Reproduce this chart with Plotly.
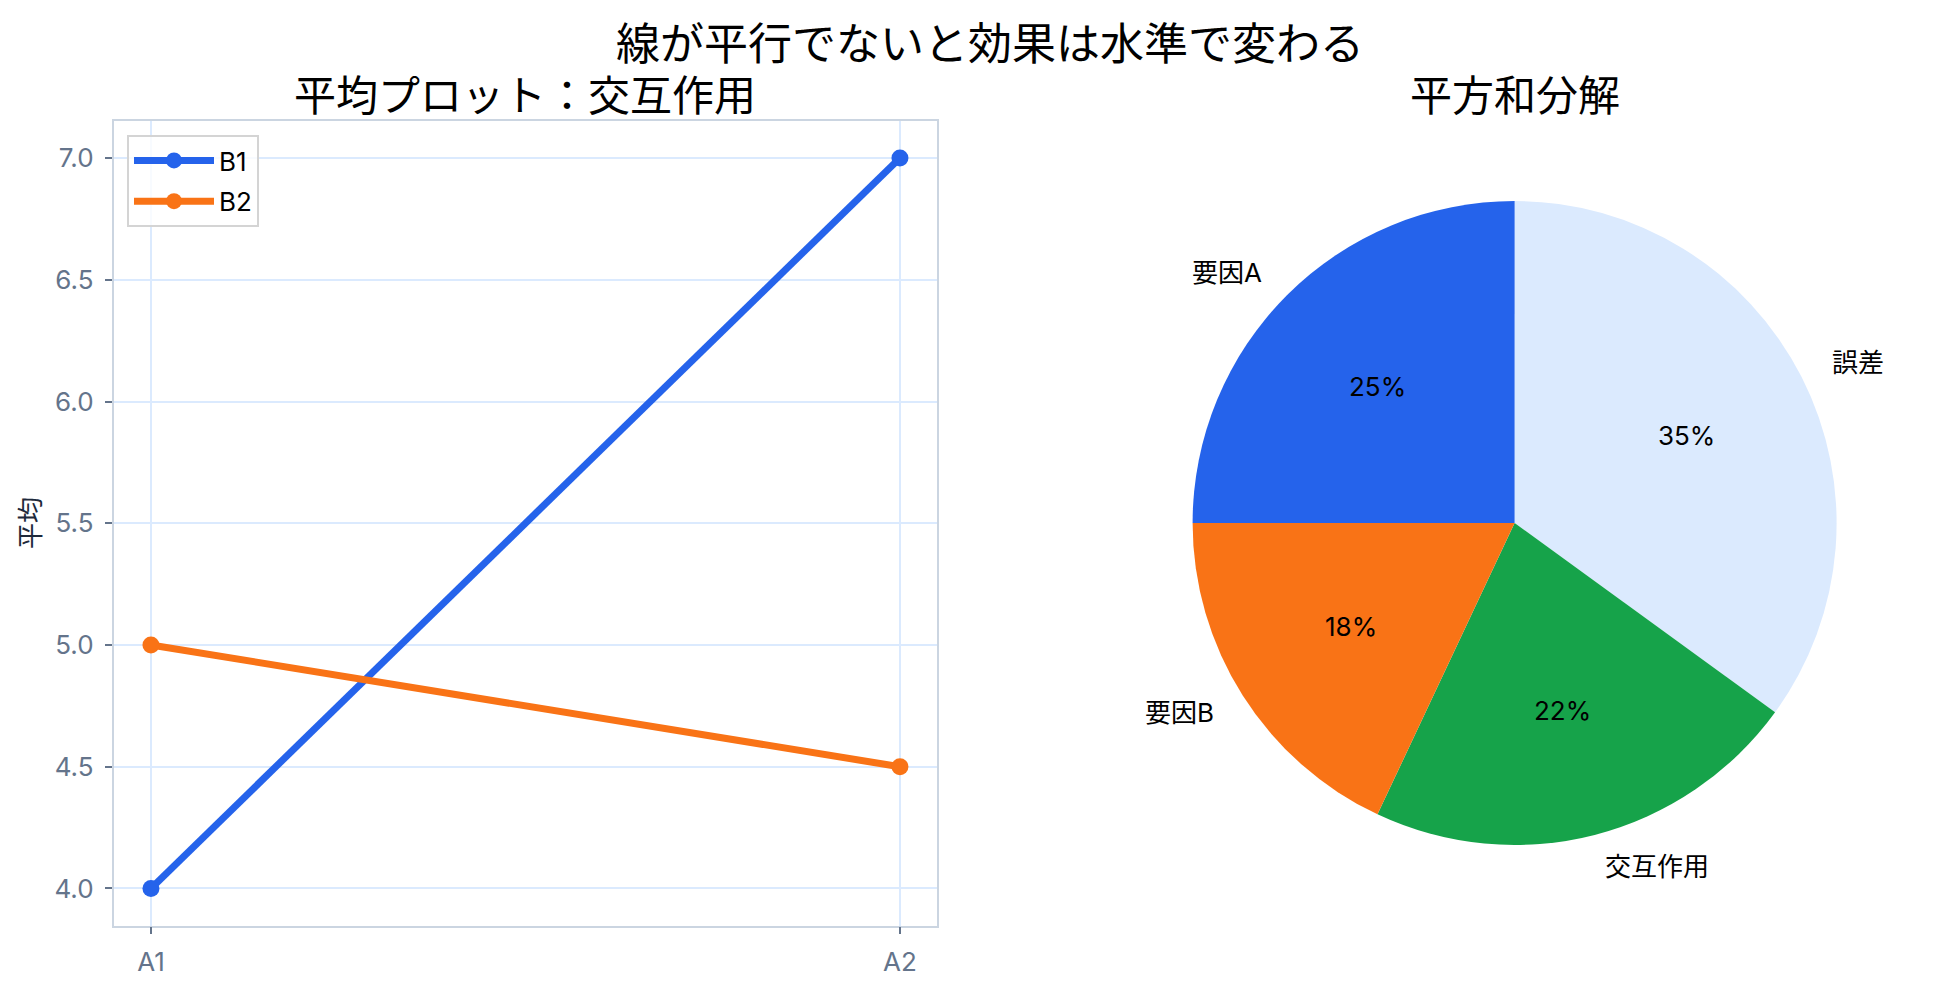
import numpy as np
import plotly.graph_objects as go

# ---- data ----
levels_a = ["A1", "A2"]
means_b1 = [4.0, 7.0]
means_b2 = [5.0, 4.5]
series_names = ["B1", "B2"]

ss_labels = ["要因A", "要因B", "交互作用", "誤差"]
ss_values = [25, 18, 22, 35]

# ---- styling ----
W, H = 1934, 987
OFF = 8  # page body margin
FONT = "Inter, Noto Sans CJK JP"
CJK = "Noto Sans CJK JP"
line_colors = ["#2563eb", "#f97316"]
pie_colors = ["#2563eb", "#f97316", "#16a34a", "#dbeafe"]
tick_color = "#64748b"
grid_color = "#dbeafe"
spine_color = "#cbd5e1"


def fx(px):
    return (px - OFF) / W


def fy(py):
    return 1 - (py - OFF) / H


# left axes pixel box (screen coords)
ax_l, ax_r, ax_t, ax_b = 113.5, 937.4, 121.0, 925.5
# pie pixel center / radius (screen coords)
pcx, pcy, pr = 1514.6, 523.0, 322.0

fig = go.Figure()
for name, vals, col in zip(series_names, [means_b1, means_b2], line_colors):
    fig.add_trace(go.Scatter(
        x=levels_a, y=vals, name=name, mode="lines+markers",
        line=dict(color=col, width=7),
        marker=dict(color=col, size=17),
        legendgroup=name,
        xaxis="x", yaxis="y",
    ))

fig.add_trace(go.Pie(
    labels=ss_labels[::-1], values=ss_values[::-1], sort=False,
    direction="clockwise", rotation=0,
    marker=dict(colors=pie_colors[::-1], line=dict(width=0)),
    textinfo="none", hoverinfo="label+percent", showlegend=False,
    domain=dict(x=[fx(pcx - pr), fx(pcx + pr)],
                y=[fy(pcy + pr), fy(pcy - pr)]),
))

annotations = []
# pie labels and percentages, placed from the data (counterclockwise from 12 o'clock)
total = float(sum(ss_values))
cum = 0.0
for lab, v in zip(ss_labels, ss_values):
    mid = (cum + v / 2.0) / total * 2 * np.pi
    cum += v
    dx, dy = -np.sin(mid), np.cos(mid)
    lx, ly = pcx + 1.1 * pr * dx, pcy - 1.1 * pr * dy
    annotations.append(dict(
        x=fx(lx), y=fy(ly), xref="paper", yref="paper",
        text=lab, showarrow=False,
        xanchor="left" if dx > 0 else "right", yanchor="middle",
        font=dict(family=FONT, size=26, color="#000000"),
    ))
    px_, py_ = pcx + 0.6 * pr * dx, pcy - 0.6 * pr * dy
    annotations.append(dict(
        x=fx(px_), y=fy(py_), xref="paper", yref="paper",
        text=f"{v / total * 100:.0f}%", showarrow=False,
        xanchor="center", yanchor="middle",
        font=dict(family=FONT, size=26, color="#000000"),
    ))

# titles
annotations += [
    dict(x=fx(990), y=1.0, xref="paper", yref="paper",
         text="線が平行でないと効果は水準で変わる", showarrow=False,
         xanchor="center", yanchor="top", borderpad=0,
         font=dict(family=CJK, size=44, color="#000000")),
    dict(x=fx((ax_l + ax_r) / 2), y=fy(92), xref="paper", yref="paper",
         text="平均プロット：交互作用", showarrow=False,
         xanchor="center", yanchor="middle",
         font=dict(family=CJK, size=42, color="#000000")),
    dict(x=fx(pcx), y=fy(92), xref="paper", yref="paper",
         text="平方和分解", showarrow=False,
         xanchor="center", yanchor="middle",
         font=dict(family=CJK, size=42, color="#000000")),
    dict(x=fx(28), y=fy(523), xref="paper", yref="paper",
         text="平均", showarrow=False, textangle=-90,
         xanchor="center", yanchor="middle",
         font=dict(family=CJK, size=26, color="#1e293b")),
]

axis_common = dict(
    showline=True, linecolor=spine_color, linewidth=1.5, mirror=True,
    showgrid=True, gridcolor=grid_color, gridwidth=1.5,
    ticks="outside", ticklen=7, tickwidth=2, tickcolor=tick_color,
    ticklabelstandoff=6,
    tickfont=dict(family=FONT, size=26, color=tick_color),
    zeroline=False,
)

fig.update_layout(
    width=W, height=H,
    margin=dict(l=0, r=0, t=0, b=0),
    paper_bgcolor="white", plot_bgcolor="white",
    font=dict(family=FONT),
    xaxis=dict(domain=[fx(ax_l), fx(ax_r)], type="category",
               range=[-0.05, 1.05], anchor="y", **axis_common),
    yaxis=dict(domain=[fy(ax_b), fy(ax_t)],
               range=[3.848, 7.152], dtick=0.5, tickformat=".1f",
               anchor="x", **axis_common),
    legend=dict(x=fx(127), y=fy(135), xanchor="left", yanchor="top",
                bordercolor="#d4d4d4", borderwidth=2, bgcolor="rgba(255,255,255,0.8)",
                font=dict(family=FONT, size=26, color="#000000"),
                itemwidth=80, tracegroupgap=4),
    annotations=annotations,
    showlegend=True,
)

fig.write_html("out.html")
